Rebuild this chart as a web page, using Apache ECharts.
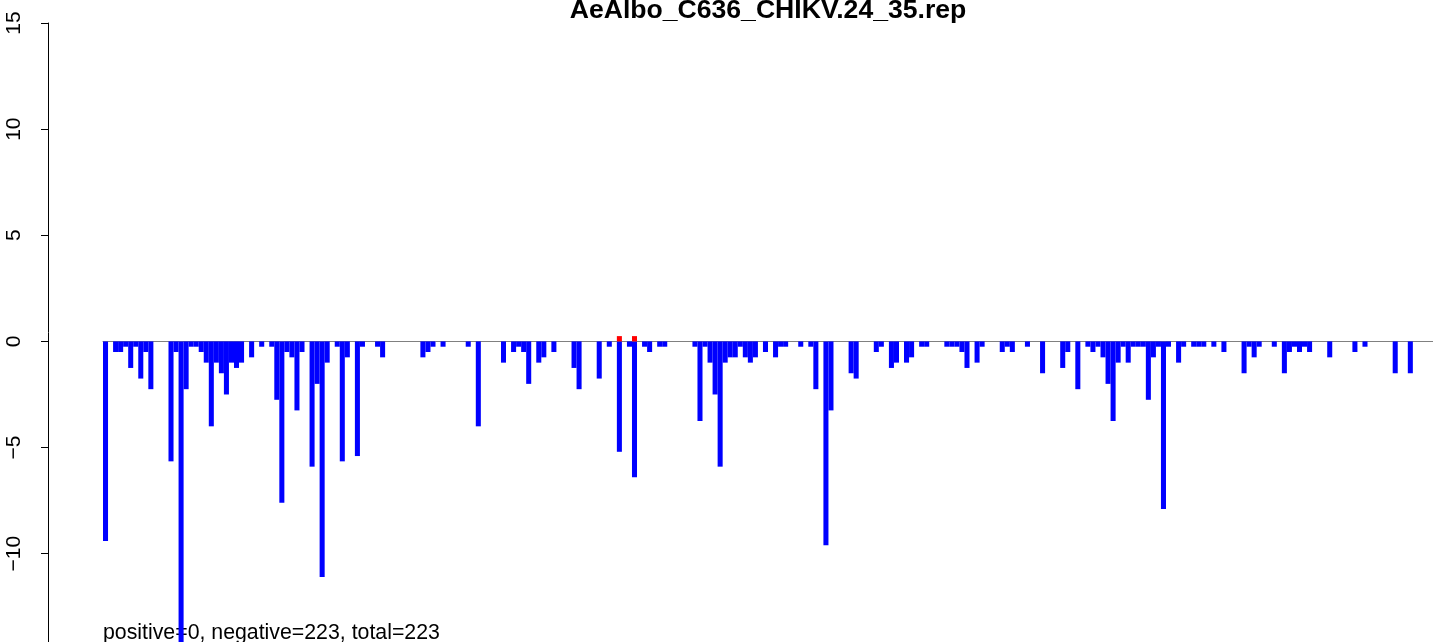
<!DOCTYPE html>
<html>
<head>
<meta charset="utf-8">
<script src="https://cdn.jsdelivr.net/npm/echarts@6/dist/echarts.min.js"></script>
<style>
html,body{margin:0;padding:0;background:#fff;}
#chart{width:1433px;height:642px;}
</style>
</head>
<body>
<div id="chart"></div>
<script>
const titleText = "AeAlbo_C636_CHIKV.24_35.rep";
const summaryText = "positive=0, negative=223, total=223";
const yTicks = [-10, -5, 0, 5, 10, 15];
const yMin = -14.16;
const yMax = 15;

// negative (blue) bar values, one per slot, left to right
const values = [
 -9.4, 0, -0.5, -0.5, -0.25, -1.25, -0.25, -1.75, -0.5, -2.25,
 0, 0, 0, -5.65, -0.5, -14.6, -2.25, -0.25, -0.25, -0.5,
 -1.0, -4.0, -1.0, -1.5, -2.5, -1.0, -1.25, -1.0, 0, -0.75,
 0, -0.25, 0, -0.25, -2.75, -7.6, -0.5, -0.75, -3.25, -0.5,
 0, -5.9, -2.0, -11.1, -1.0, 0, -0.25, -5.65, -0.75, 0,
 -5.4, -0.25, 0, 0, -0.25, -0.75, 0, 0, 0, 0,
 0, 0, 0, -0.75, -0.5, -0.25, 0, -0.25, 0, 0,
 0, 0, -0.25, 0, -4.0, 0, 0, 0, 0, -1.0,
 0, -0.5, -0.25, -0.5, -2.0, 0, -1.0, -0.75, 0, -0.5,
 0, 0, 0, -1.25, -2.25, 0, 0, 0, -1.75, 0,
 -0.25, 0, -5.2, 0, -0.25, -6.4, 0, -0.25, -0.5, 0,
 -0.25, -0.25, 0, 0, 0, 0, 0, -0.25, -3.75, -0.25,
 -1.0, -2.5, -5.9, -1.0, -0.75, -0.75, -0.25, -0.75, -1.0, -0.75,
 0, -0.5, 0, -0.75, -0.25, -0.25, 0, 0, -0.25, 0,
 -0.25, -2.25, 0, -9.6, -3.25, 0, 0, 0, -1.5, -1.75,
 0, 0, 0, -0.5, -0.25, 0, -1.25, -1.0, 0, -1.0,
 -0.75, 0, -0.25, -0.25, 0, 0, 0, -0.25, -0.25, -0.25,
 -0.5, -1.25, 0, -1.0, -0.25, 0, 0, 0, -0.5, -0.25,
 -0.5, 0, 0, -0.25, 0, 0, -1.5, 0, 0, 0,
 -1.25, -0.5, 0, -2.25, 0, -0.25, -0.5, -0.25, -0.75, -2.0,
 -3.75, -1.0, -0.25, -1.0, -0.25, -0.25, -0.25, -2.75, -0.75, -0.25,
 -7.9, -0.25, 0, -1.0, -0.25, 0, -0.25, -0.25, -0.25, 0,
 -0.25, 0, -0.5, 0, 0, 0, -1.5, -0.25, -0.75, -0.25,
 0, 0, -0.25, 0, -1.5, -0.5, -0.25, -0.5, -0.25, -0.5,
 0, 0, 0, -0.75, 0, 0, 0, 0, -0.5, 0,
 -0.25, 0, 0, 0, 0, 0, -1.5, 0, 0, -1.5,
 0, 0, 0, 0
];

// small positive (red) marks: slot index -> value
const redSlots = [102, 105];
const redValues = [0.25, 0.25];

const categories = values.map((v, i) => String(i + 1));
const redData = categories.map(() => 0);
redSlots.forEach((s, i) => { redData[s] = redValues[i]; });

const chart = echarts.init(document.getElementById('chart'), null, {renderer: 'canvas'});
chart.setOption({
  animation: false,
  backgroundColor: '#ffffff',
  grid: {left: 103, right: 0, top: 23, bottom: 0, containLabel: false},
  xAxis: {
    type: 'category',
    data: categories,
    boundaryGap: true,
    axisLine: {show: true, onZero: true, lineStyle: {color: '#808080', width: 1}},
    axisTick: {show: false},
    axisLabel: {show: false},
    splitLine: {show: false},
    z: 1
  },
  yAxis: {
    type: 'value',
    min: yMin,
    max: yMax,
    offset: 55,
    axisLine: {show: true, lineStyle: {color: '#000', width: 1}},
    axisTick: {show: true, length: 7, inside: false, customValues: yTicks, lineStyle: {color: '#000', width: 1}},
    axisLabel: {
      show: true, rotate: 90, fontSize: 21, color: '#000', margin: 23,
      customValues: yTicks,
      fontFamily: 'Liberation Sans, Arial, sans-serif',
      formatter: v => String(v).replace('-', '\u2212')
    },
    splitLine: {show: false}
  },
  series: [
    {
      type: 'bar',
      data: values,
      barCategoryGap: '0%',
      barGap: '-100%',
      itemStyle: {color: '#0000ff'},
      z: 2
    },
    {
      type: 'bar',
      data: redData,
      barCategoryGap: '0%',
      barGap: '-100%',
      itemStyle: {color: '#ff0000'},
      z: 3
    }
  ],
  graphic: [
    {
      type: 'text', x: 768, y: 11,
      style: {text: titleText, font: 'bold 26.6px "Liberation Sans", Arial, sans-serif', fill: '#000', textAlign: 'center', textVerticalAlign: 'middle'}
    },
    {
      type: 'text', x: 103, y: 633,
      style: {text: summaryText, font: '21.3px "Liberation Sans", Arial, sans-serif', fill: '#000', textAlign: 'left', textVerticalAlign: 'middle'}
    }
  ]
});
</script>
</body>
</html>
